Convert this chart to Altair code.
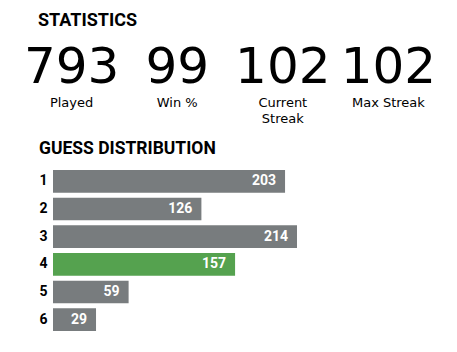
import altair as alt
import pandas as pd

# Statistics
stat_values = ["793", "99", "102", "102"]
stat_labels = ["Played", "Win %", "Current\nStreak", "Max Streak"]

# Guess distribution
guesses = ["1", "2", "3", "4", "5", "6"]
counts = [203, 126, 214, 157, 59, 29]
highlight = "4"

stats_df = pd.DataFrame({"value": stat_values, "label": stat_labels})
dist_df = pd.DataFrame({"guess": guesses, "count": counts})
dist_df["current"] = dist_df["guess"] == highlight

GRAY = "#787c7e"
GREEN = "#55a24f"
BOLD = "Roboto"
THIN = "DejaVu Sans"
BAR_BASE = -10.6  # bars carry a small fixed minimum width before the count scale starts

x_scale = alt.Scale(domain=[BAR_BASE, max(counts)], zero=False, nice=False)
y_enc = alt.Y("guess:N", sort=guesses,
              scale=alt.Scale(paddingInner=0.18, paddingOuter=0.09),
              axis=alt.Axis(title=None, ticks=False, domain=False, labelPadding=6,
                            labelFont=BOLD, labelFontWeight="bold", labelFontSize=14,
                            labelColor="#000000", grid=False))

bars = alt.Chart(dist_df).mark_bar().encode(
    x=alt.X("count:Q", scale=x_scale, axis=None),
    x2=alt.X2(datum=BAR_BASE),
    y=y_enc,
    color=alt.Color("current:N", scale=alt.Scale(domain=[False, True], range=[GRAY, GREEN]), legend=None),
)

bar_text = alt.Chart(dist_df).mark_text(
    align="right", baseline="middle", dx=-9, font=BOLD, fontWeight="bold", fontSize=14, color="white"
).encode(
    x=alt.X("count:Q", scale=x_scale, axis=None),
    y=alt.Y("guess:N", sort=guesses),
    text="count:Q",
)

stat_x = alt.X("label:N", sort=stat_labels, axis=None,
               scale=alt.Scale(type="point", domain=stat_labels, range=[18.6, 335.4], padding=0))

stat_nums = alt.Chart(stats_df).mark_text(
    align="center", baseline="alphabetic", font=THIN, fontSize=50, color="#000000"
).encode(x=stat_x, y=alt.value(-84.5), text="value:N")

stat_labs = alt.Chart(stats_df).mark_text(
    align="center", baseline="alphabetic", font=THIN, fontSize=13, lineBreak="\n",
    lineHeight=16, color="#000000"
).encode(x=stat_x, y=alt.value(-60.5), text="label:N")

title1 = alt.Chart(pd.DataFrame({"t": ["STATISTICS"]})).mark_text(
    align="left", baseline="alphabetic", font=BOLD, fontWeight="bold", fontSize=18, color="#000000"
).encode(x=alt.value(-15), y=alt.value(-141.5), text="t:N")

title2 = alt.Chart(pd.DataFrame({"t": ["GUESS DISTRIBUTION"]})).mark_text(
    align="left", baseline="alphabetic", font=BOLD, fontWeight="bold", fontSize=17.5, color="#000000"
).encode(x=alt.value(-14), y=alt.value(-13.5), text="t:N")

chart = alt.layer(bars, bar_text, stat_nums, stat_labs, title1, title2).resolve_scale(
    x="independent"
).properties(
    width=244, height=166,
    autosize=alt.AutoSizeParams(type="none"),
    padding={"left": 53, "top": 167.5, "right": 160, "bottom": 18.5},
    background="white",
).configure_view(stroke=None)

chart.save("out.html", embed_options={"renderer": "svg", "actions": False})
